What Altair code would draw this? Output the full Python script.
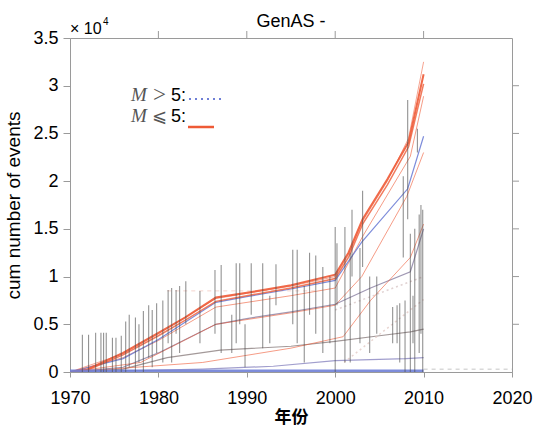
import altair as alt
import pandas as pd

# ---------------- data (values in units of 10^4 events) ----------------
x_ticks = [1970, 1980, 1990, 2000, 2010, 2020]
y_ticks = [0, 0.5, 1, 1.5, 2, 2.5, 3, 3.5]

# M <= 5 cumulative curves (red)
r1_years = [1970, 1972, 1976, 1980, 1983, 1986.5, 1990, 1995, 2000, 2001.5, 2003.1, 2005.9, 2008.3, 2010]
r1_vals  = [0, 0.03, 0.2, 0.41, 0.57, 0.78, 0.83, 0.91, 1.02, 1.25, 1.6, 2.02, 2.41, 3.12]
r2_years = [1970, 1972, 1976, 1980, 1983, 1986.5, 1990, 1995, 2000, 2001.5, 2003.1, 2005.9, 2008.3, 2010]
r2_vals  = [0, 0.02, 0.18, 0.38, 0.54, 0.74, 0.8, 0.88, 0.98, 1.2, 1.55, 1.96, 2.36, 3.02]
r3_years = [1970, 1976, 1980, 1986.5, 1995, 2000, 2001.5, 2003.1, 2005.9, 2008.3, 2010]
r3_vals  = [0, 0.19, 0.4, 0.77, 0.9, 1.0, 1.23, 1.58, 2.0, 2.45, 3.25]
r4_years = [1970, 1976, 1980, 1986.5, 1995, 2000, 2003.1, 2008.5, 2010]
r4_vals  = [0, 0.15, 0.33, 0.68, 0.8, 0.88, 1.42, 2.26, 2.89]
r5_years = [1970, 1978, 1986.5, 1995, 2000, 2003, 2008.1, 2010]
r5_vals  = [0, 0.1, 0.5, 0.62, 0.7, 1.0, 1.84, 2.3]
r6_years = [1970, 1985, 1995, 2000.9, 2004, 2008.5, 2010]
r6_vals  = [0, 0.1, 0.25, 0.37, 0.75, 1.2, 1.55]

# M > 5 cumulative curves (blue / grey-blue)
b1_years = [1970, 1976, 1980, 1986.5, 1990, 1995, 2000, 2003, 2008.2, 2010]
b1_vals  = [0, 0.14, 0.34, 0.73, 0.79, 0.87, 0.96, 1.36, 1.92, 2.47]
b2_years = [1970, 1976, 1980, 1986.5, 1990, 1995, 2000, 2004, 2008.5, 2010]
b2_vals  = [0, 0.05, 0.2, 0.5, 0.56, 0.63, 0.71, 0.88, 1.05, 1.5]
g1_years = [1970, 1976, 1981, 1987, 1995, 2000, 2005, 2008.5, 2010]
g1_vals  = [0, 0.03, 0.15, 0.23, 0.27, 0.32, 0.38, 0.42, 0.45]
g2_years = [1970, 1985, 1993, 2000, 2008, 2010]
g2_vals  = [0, 0.03, 0.06, 0.12, 0.14, 0.15]
b0_years = [1970, 2010]
b0_vals  = [0.01, 0.01]
d1_years = [2000, 2010]
d1_vals  = [0.65, 1.0]
d2_years = [2001, 2010]
d2_vals  = [0.1, 0.76]
d3_years = [2010, 2020]
d3_vals  = [0.03, 0.03]
d4_years = [1981, 1998]
d4_vals  = [0.85, 0.85]

# grey event spikes
spike_years = [1971.4, 1972.1, 1972.9, 1973.5, 1973.8, 1974.1, 1974.8, 1975.2, 1975.8,
               1976.3, 1976.7, 1977.4, 1977.8, 1978.3, 1978.9, 1979.3, 1979.8, 1980.5,
               1981.1, 1981.5, 1982.0, 1982.4, 1983.1, 1984.7, 1986.4, 1987.1, 1988.3,
               1988.8, 1989.2, 1989.8, 1990.5, 1991.8, 1992.6, 1993.3, 1995.2, 1995.7,
               1996.5, 1997.1, 1997.8, 1998.6, 1999.4, 2000.0, 2000.2, 2001.1, 2001.7,
               2001.9, 2002.8, 2003.1, 2003.9, 2004.7, 2006.5, 2007.0, 2007.3, 2007.7,
               2007.9, 2008.2, 2008.5, 2008.8, 2009.0, 2009.3, 2009.5, 2009.7, 2009.9]
spike_base  = [0, 0, 0, 0, 0, 0, 0, 0, 0,
               0, 0.05, 0, 0.1, 0, 0.15, 0.05, 0.2, 0.1,
               0.3, 0.1, 0.4, 0.2, 0.5, 0.3, 0.4, 0.2, 0.2,
               0.3, 0.5, 0.05, 0.6, 0.25, 0.3, 0.7, 0.5, 0.3,
               0.1, 0.6, 0.4, 0.2, 0.3, 0, 0.7, 0.1, 0.1,
               1.0, 0.3, 1.1, 0.2, 0.4, 0.3, 0.3, 0.1, 1.2,
               0, 1.6, 0, 0.3, 0, 2.3, 0.2, 0.4, 0]
spike_top   = [0.39, 0.39, 0.41, 0.41, 0.41, 0.41, 0.36, 0.36, 0.38,
               0.53, 0.6, 0.57, 0.5, 0.64, 0.7, 0.65, 0.72, 0.75,
               0.86, 0.88, 0.86, 0.9, 0.95, 0.85, 1.07, 1.12, 0.6,
               1.14, 1.14, 0.5, 1.14, 1.14, 0.8, 1.13, 1.28, 1.28,
               0.9, 1.25, 1.22, 1.1, 1.0, 1.52, 1.35, 1.52, 1.25,
               1.7, 1.3, 1.9, 1.0, 1.0, 0.68, 0.7, 0.72, 2.05,
               0.75, 2.85, 1.45, 0.8, 1.5, 2.55, 1.65, 1.75, 1.7]

# ---------------- styles ----------------
RED = "#ee5a36"
BLUE = "#6f7fd6"
series = [
    (g2_years, g2_vals, "#8a86c0", 1.2, 0.8, None),
    (g1_years, g1_vals, "#8c7f80", 1.2, 0.8, None),
    (d1_years, d1_vals, "#d9c7c7", 1.5, 0.8, [2, 3]),
    (d2_years, d2_vals, "#e2c9c4", 1.5, 0.8, [2, 3]),
    (d3_years, d3_vals, "#cfcfcf", 1.5, 0.8, [4, 4]),
    (d4_years, d4_vals, "#f2c9c0", 1.0, 0.8, [4, 4]),
    (b2_years, b2_vals, "#8f86a6", 1.2, 0.85, None),
    (r6_years, r6_vals, RED, 1.0, 0.6, None),
    (r5_years, r5_vals, RED, 1.0, 0.6, None),
    (r4_years, r4_vals, RED, 1.0, 0.6, None),
    (b1_years, b1_vals, BLUE, 1.2, 0.9, None),
    (r3_years, r3_vals, RED, 1.0, 0.55, None),
    (r2_years, r2_vals, RED, 1.5, 0.8, None),
    (r1_years, r1_vals, RED, 2.0, 0.9, None),
    (b0_years, b0_vals, BLUE, 3.0, 0.9, None),
]

W, H = 442, 334
xscale = alt.Scale(domain=[1970, 2020], nice=False, zero=False)
yscale = alt.Scale(domain=[0, 3.5], nice=False)
AXC = "#9a9a9a"

xaxis = alt.Axis(values=x_ticks, format="d", labelFontSize=18, labelColor="black",
                 labelFont="Liberation Sans", tickSize=5, tickColor=AXC, domainColor=AXC,
                 labelPadding=12, labelFlush=False, labelOverlap=False, grid=False,
                 title="年份", titleFont="Noto Sans CJK SC",
                 titleFontSize=17, titleFontWeight="bold", titleColor="black", titlePadding=2)
yaxis = alt.Axis(values=y_ticks, labelExpr="format(datum.value, '~g')", labelFontSize=18,
                 labelColor="black", labelFont="Liberation Sans", tickSize=7, tickColor=AXC,
                 domainColor=AXC, labelPadding=5, labelFlush=False, labelOverlap=False,
                 grid=False, title="cum number of events",
                 titleFont="Liberation Sans", titleFontSize=19, titleFontWeight="normal",
                 titleColor="black", titlePadding=9)

def X(field):
    return alt.X(field, type="quantitative", scale=xscale, axis=xaxis)

def Y(field):
    return alt.Y(field, type="quantitative", scale=yscale, axis=yaxis)

layers = []
for ys, vs, col, w, op, dash in series:
    df = pd.DataFrame({"year": ys, "v": vs})
    kw = dict(color=col, strokeWidth=w, opacity=op, clip=True)
    if dash:
        kw["strokeDash"] = dash
    layers.append(alt.Chart(df).mark_line(**kw).encode(x=X("year"), y=Y("v")))

spikes = pd.DataFrame({"year": spike_years, "v": spike_base, "hi": spike_top})
layers.append(
    alt.Chart(spikes).mark_rule(color="#4a4a4a", strokeWidth=1.1, opacity=0.6).encode(
        x=X("year"), y=Y("v"), y2="hi:Q")
)

# outward ticks on the top and right edges
top_df = pd.DataFrame({"year": x_ticks[1:-1]})
layers.append(
    alt.Chart(top_df).mark_rule(color=AXC, strokeWidth=1).encode(
        x=X("year"), y=alt.value(-7), y2=alt.value(0))
)
right_df = pd.DataFrame({"v": y_ticks[1:-1]})
layers.append(
    alt.Chart(right_df).mark_rule(color=AXC, strokeWidth=1).encode(
        y=Y("v"), x=alt.value(W), x2=alt.value(W + 7))
)

def txt(s, x, y, size, font="Liberation Sans", color="black", style="normal", align="left"):
    return alt.Chart(pd.DataFrame({"t": [s]})).mark_text(
        text=s, fontSize=size, font=font, color=color, fontStyle=style, align=align,
        baseline="alphabetic").encode(x=alt.value(x), y=alt.value(y))

# title and exponent
layers.append(txt("GenAS -", 221, -11, 18, align="center"))
layers.append(txt("× 10", 0, -4, 16))
layers.append(txt("4", 33, -13, 10))

# in-plot legend
layers.append(txt("M", 61, 63, 19, font="Liberation Serif", color="#555", style="italic"))
layers.append(txt(">", 83, 64, 23, font="Liberation Serif", color="#555"))
layers.append(txt("5:", 101, 63, 18))
layers.append(txt("M", 61, 84, 19, font="Liberation Serif", color="#555", style="italic"))
layers.append(txt("⩽", 82, 84, 18, font="DejaVu Sans", color="#555"))
layers.append(txt("5:", 101, 84, 18))
layers.append(
    alt.Chart(pd.DataFrame({"a": [0]})).mark_rule(color=BLUE, strokeWidth=1.8, strokeDash=[2, 4]).encode(
        x=alt.value(119), x2=alt.value(152), y=alt.value(61))
)
layers.append(
    alt.Chart(pd.DataFrame({"a": [0]})).mark_rule(color=RED, strokeWidth=2.5).encode(
        x=alt.value(118), x2=alt.value(144), y=alt.value(89))
)

chart = alt.layer(*layers).properties(
    width=W, height=H,
    autosize=alt.AutoSizeParams(type="none"),
    padding={"left": 70, "top": 38, "right": 22, "bottom": 60},
    background="white",
).configure_view(stroke=AXC, strokeWidth=1)

chart.save("out.html", embed_options={"renderer": "svg", "actions": False})
